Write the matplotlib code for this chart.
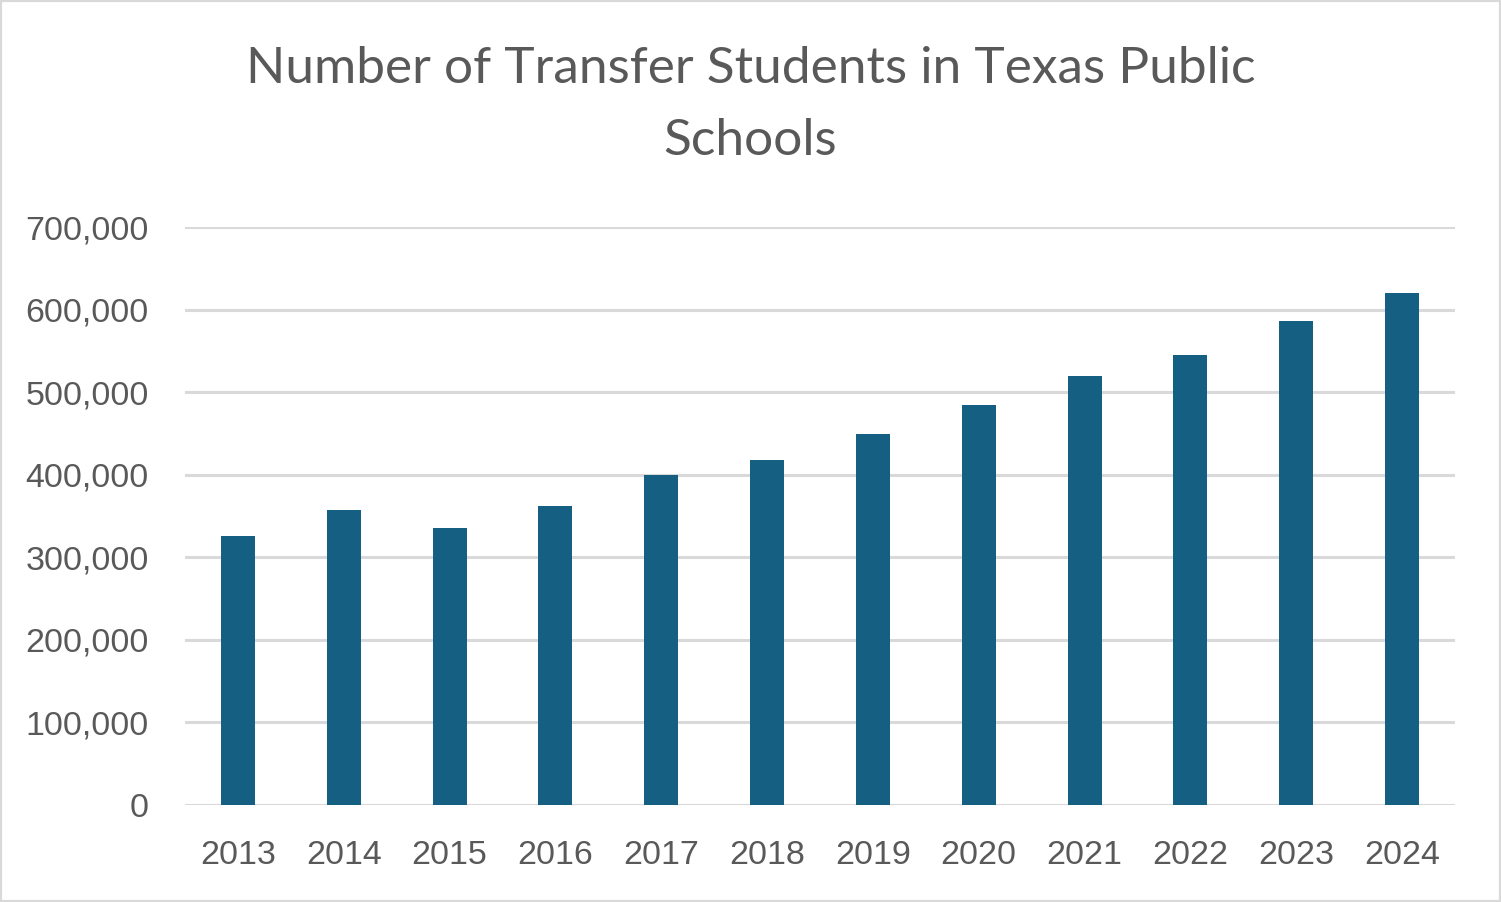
import matplotlib.pyplot as plt
from matplotlib.ticker import FuncFormatter
from matplotlib.patches import Rectangle

years = ['2013', '2014', '2015', '2016', '2017', '2018',
         '2019', '2020', '2021', '2022', '2023', '2024']
students = [326000, 357000, 335000, 362000, 400000, 418000,
            449000, 484000, 520000, 545000, 586000, 620000]

bar_color = '#155F82'
text_color = '#595959'
grid_color = '#D9D9D9'

fig = plt.figure(figsize=(15.01, 9.02), dpi=100)
fig.patch.set_facecolor('white')
fig.patches.append(Rectangle((0, 0), 1, 1, transform=fig.transFigure,
                             fill=False, edgecolor=grid_color, linewidth=3))

ax = fig.add_axes([185 / 1501, 1 - 805 / 902, 1270 / 1501, 578 / 902])
ax.bar(range(len(years)), students, width=0.32, color=bar_color, zorder=3)

ax.set_xlim(-0.5, len(years) - 0.5)
ax.set_ylim(0, 700000)
ax.set_yticks(range(0, 700001, 100000))
ax.yaxis.set_major_formatter(FuncFormatter(lambda v, p: f'{int(v):,}'))
ax.set_xticks(range(len(years)))
ax.set_xticklabels(years)

ax.grid(axis='y', color=grid_color, linewidth=2.2, zorder=0)
for s in ax.spines.values():
    s.set_visible(False)
ax.axhline(0, color=grid_color, linewidth=2.2, zorder=2)
ax.tick_params(length=0, labelsize=24.5, colors=text_color, labelcolor=text_color)
ax.tick_params(axis='y', pad=26)
ax.tick_params(axis='x', pad=25)
for lbl in ax.get_xticklabels() + ax.get_yticklabels():
    lbl.set_family('Liberation Sans')

fig.text(0.5, 1 - 69 / 902, 'Number of Transfer Students in Texas Public',
         ha='center', va='center', fontsize=37, color=text_color, family='Lato')
fig.text(0.5, 1 - 141 / 902, 'Schools',
         ha='center', va='center', fontsize=37, color=text_color, family='Lato')

fig.savefig('out.png', dpi=100)
